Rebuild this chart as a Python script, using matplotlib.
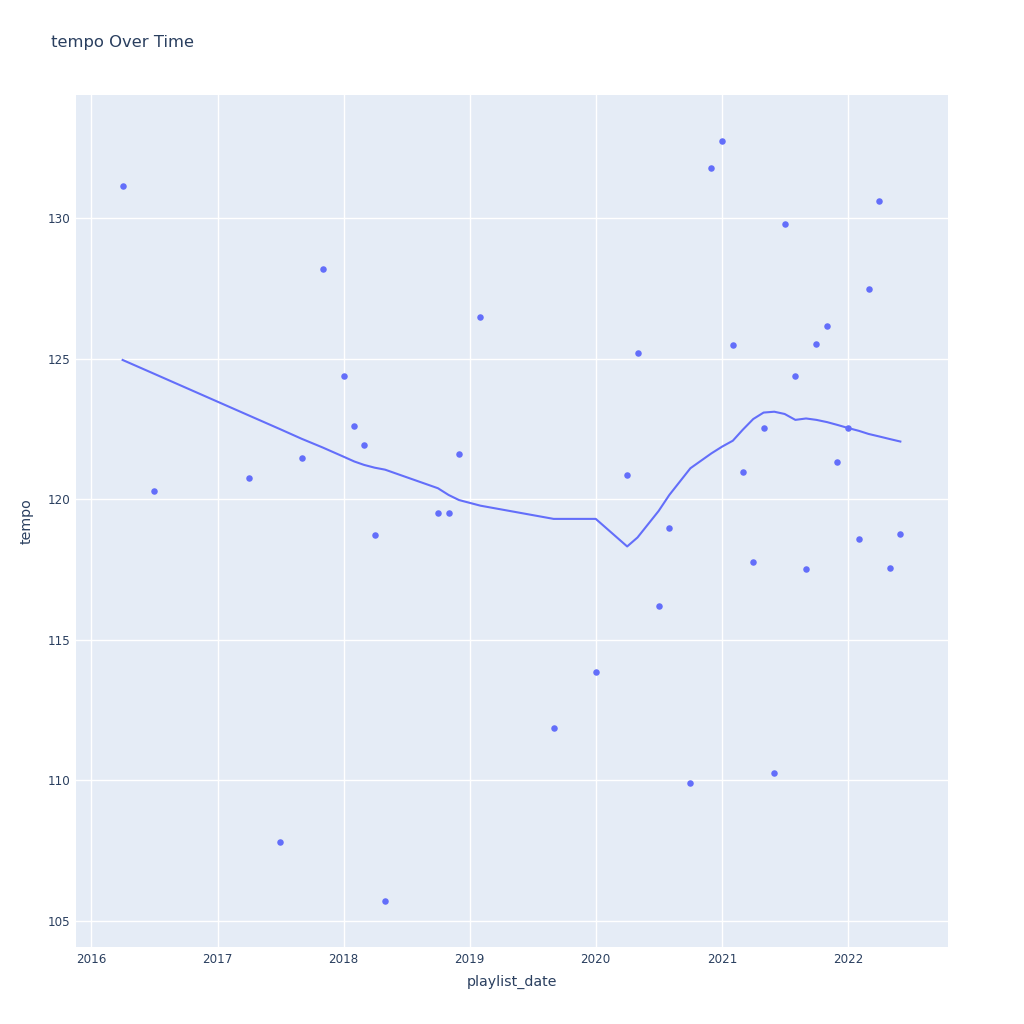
"""Scatter of tempo per playlist month with a lowess trend line."""

import matplotlib

matplotlib.use("Agg")
import matplotlib.dates as mdates
import matplotlib.pyplot as plt
import pandas as pd

playlist_months = [
    "2016-04", "2016-07", "2017-04", "2017-07", "2017-09", "2017-11",
    "2018-01", "2018-02", "2018-03", "2018-04", "2018-05", "2018-10",
    "2018-11", "2018-12", "2019-02", "2019-09", "2020-01", "2020-04",
    "2020-05", "2020-07", "2020-08", "2020-10", "2020-12", "2021-01",
    "2021-02", "2021-03", "2021-04", "2021-05", "2021-06", "2021-07",
    "2021-08", "2021-09", "2021-10", "2021-11", "2021-12", "2022-01",
    "2022-02", "2022-03", "2022-04", "2022-05", "2022-06",
]

tempo = [
    131.13, 120.29, 120.77, 107.83, 121.48, 128.20,
    124.38, 122.62, 121.94, 118.71, 105.70, 119.52,
    119.50, 121.61, 126.47, 111.85, 113.85, 120.86,
    125.18, 116.21, 118.99, 109.91, 131.78, 132.74,
    125.47, 120.98, 117.78, 122.52, 110.26, 129.79,
    124.38, 117.53, 125.52, 126.15, 121.33, 122.52,
    118.59, 127.47, 130.60, 117.56, 118.76,
]

trend = [
    124.95, 124.46, 122.98, 122.49, 122.15, 121.84,
    121.51, 121.34, 121.22, 121.12, 121.05, 120.39,
    120.15, 119.97, 119.77, 119.30, 119.30, 118.32,
    118.64, 119.58, 120.15, 121.10, 121.63, 121.87,
    122.08, 122.46, 122.85, 123.08, 123.11, 123.03,
    122.82, 122.87, 122.82, 122.74, 122.64, 122.53,
    122.43, 122.32, 122.23, 122.14, 122.05,
]

year_ticks = ["2016", "2017", "2018", "2019", "2020", "2021", "2022"]
tempo_ticks = [105, 110, 115, 120, 125, 130]

MARKER = "#636EFA"
BG = "#E5ECF6"
TEXT = "#2a3f5f"


def main() -> None:
    plt.rcParams["font.family"] = ["DejaVu Sans"]
    dates = pd.to_datetime(playlist_months)

    fig = plt.figure(figsize=(10.24, 10.24), dpi=100)
    ax = fig.add_axes([76 / 1024, 77 / 1024, 872 / 1024, 852 / 1024])
    ax.set_facecolor(BG)

    ax.plot(dates, trend, color=MARKER, linewidth=1.5, zorder=3)
    ax.scatter(dates, tempo, s=22, color=MARKER, linewidths=0, zorder=4)

    ax.set_xlim(pd.Timestamp("2015-11-18"), pd.Timestamp("2022-10-17"))
    ax.set_ylim(104.08, 134.37)

    ax.set_xticks(pd.to_datetime(year_ticks))
    ax.xaxis.set_major_formatter(mdates.DateFormatter("%Y"))
    ax.set_yticks(tempo_ticks)

    ax.grid(True, color="white", linewidth=1.0)
    ax.set_axisbelow(True)
    for spine in ax.spines.values():
        spine.set_visible(False)
    ax.tick_params(length=0, labelsize=8.6, labelcolor=TEXT, pad=4)

    ax.set_xlabel("playlist_date", fontsize=10.2, color=TEXT, labelpad=7)
    ax.set_ylabel("tempo", fontsize=10.2, color=TEXT, labelpad=10)
    fig.text(51 / 1024, 1 - 42 / 1024, "tempo Over Time", fontsize=11.8,
             color=TEXT, ha="left", va="center")

    fig.savefig("out.png", dpi=100)
    plt.close(fig)


if __name__ == "__main__":
    main()
